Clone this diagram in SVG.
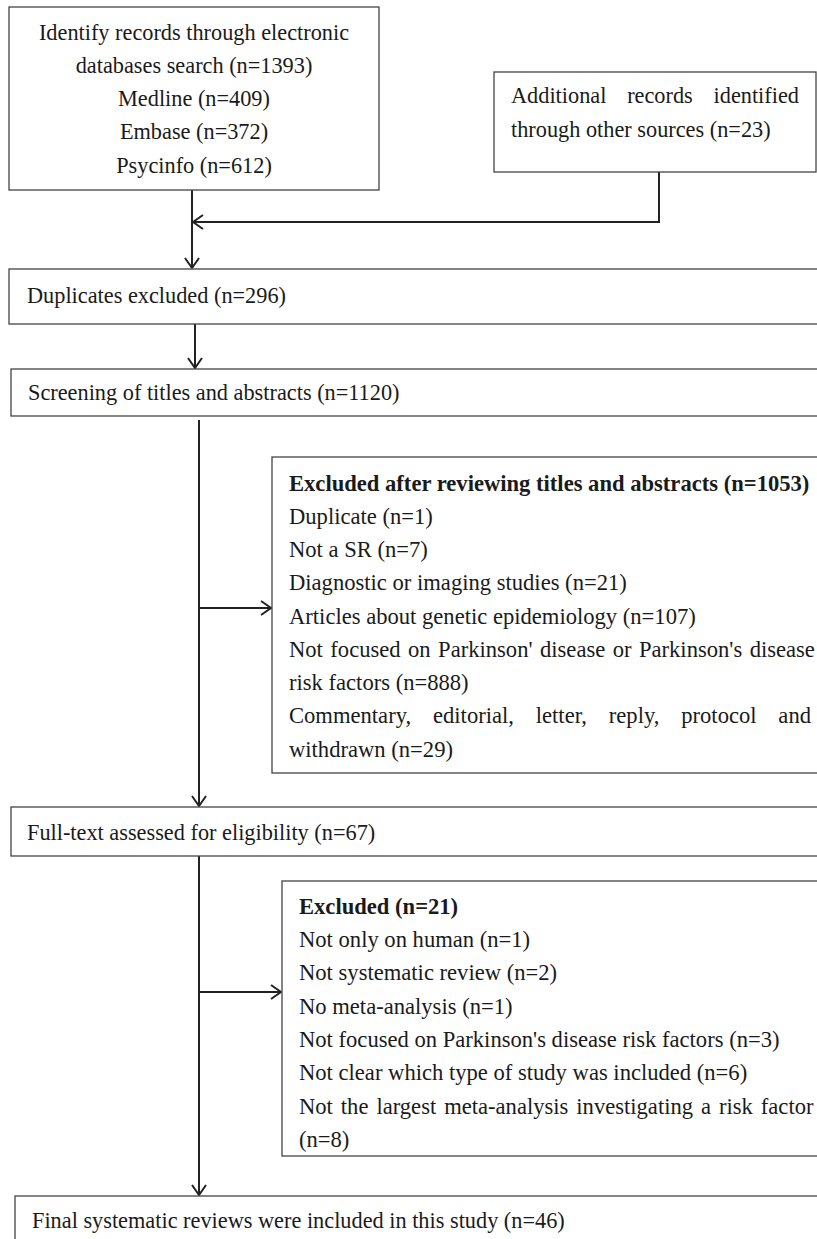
<svg xmlns="http://www.w3.org/2000/svg" width="817" height="1239" viewBox="0 0 817 1239">
<style>
.box{fill:#fff;stroke:#444;stroke-width:1.3}
.t{font-family:"Liberation Serif","Times New Roman",serif;font-size:22.3px;fill:#1a1a1a}
.s{font-family:"Liberation Serif","Times New Roman",serif;font-size:22.6px;fill:#1a1a1a}
.b{font-weight:bold}
.c{text-anchor:middle}
.ln{fill:none;stroke:#222;stroke-width:2}
</style>
<defs>
<marker id="ah" viewBox="0 0 12 16" refX="11" refY="8" markerWidth="12" markerHeight="16" markerUnits="userSpaceOnUse" orient="auto">
<polyline points="1,1 11,8 1,15" fill="none" stroke="#222" stroke-width="2"/>
</marker>
</defs>
<g id="connectors">
<line class="ln" x1="192" y1="190" x2="192" y2="268" marker-end="url(#ah)"/>
<polyline class="ln" points="659,172 659,222 193,222" marker-end="url(#ah)"/>
<line class="ln" x1="195" y1="324" x2="195" y2="368" marker-end="url(#ah)"/>
<line class="ln" x1="199" y1="420" x2="199" y2="806" marker-end="url(#ah)"/>
<line class="ln" x1="199" y1="608" x2="271" y2="608" marker-end="url(#ah)"/>
<line class="ln" x1="199" y1="856" x2="199" y2="1195" marker-end="url(#ah)"/>
<line class="ln" x1="199" y1="992" x2="281" y2="992" marker-end="url(#ah)"/>
</g>
<g id="identify">
<rect class="box" x="9" y="7" width="370" height="183"/>
<text class="t c" x="194" y="39.5">Identify records through electronic</text>
<text class="t c" x="194" y="72.8">databases search (n=1393)</text>
<text class="t c" x="194" y="106">Medline (n=409)</text>
<text class="t c" x="194" y="139.3">Embase (n=372)</text>
<text class="t c" x="194" y="172.6">Psycinfo (n=612)</text>
</g>
<g id="additional">
<rect class="box" x="494" y="72" width="322" height="100"/>
<text class="t" x="511" y="103" word-spacing="15.2">Additional records identified</text>
<text class="t" x="511" y="137">through other sources (n=23)</text>
</g>
<g id="duplicates">
<rect class="box" x="9" y="269" width="820" height="55"/>
<text class="t" x="27" y="303">Duplicates excluded (n=296)</text>
</g>
<g id="screening">
<rect class="box" x="11" y="369" width="820" height="47"/>
<text class="t" x="28" y="400">Screening of titles and abstracts (n=1120)</text>
</g>
<g id="excluded1">
<rect class="box" x="272" y="457" width="560" height="316"/>
<text class="s b" x="289" y="490.7">Excluded after reviewing titles and abstracts (n=1053)</text>
<text class="s" x="289" y="524">Duplicate (n=1)</text>
<text class="s" x="289" y="557">Not a SR (n=7)</text>
<text class="s" x="289" y="590">Diagnostic or imaging studies (n=21)</text>
<text class="s" x="289" y="623.5">Articles about genetic epidemiology (n=107)</text>
<text class="s" x="289" y="657" word-spacing="1.8">Not focused on Parkinson' disease or Parkinson's disease</text>
<text class="s" x="289" y="690">risk factors (n=888)</text>
<text class="s" x="289" y="723" word-spacing="16.2">Commentary, editorial, letter, reply, protocol and</text>
<text class="s" x="289" y="756.5">withdrawn (n=29)</text>
</g>
<g id="fulltext">
<rect class="box" x="11" y="807" width="820" height="49"/>
<text class="t" x="27" y="840">Full-text assessed for eligibility (n=67)</text>
</g>
<g id="excluded2">
<rect class="box" x="282" y="881" width="550" height="275"/>
<text class="s b" x="299" y="914">Excluded (n=21)</text>
<text class="s" x="299" y="947">Not only on human (n=1)</text>
<text class="s" x="299" y="980">Not systematic review (n=2)</text>
<text class="s" x="299" y="1014">No meta-analysis (n=1)</text>
<text class="s" x="299" y="1047">Not focused on Parkinson's disease risk factors (n=3)</text>
<text class="s" x="299" y="1080">Not clear which type of study was included (n=6)</text>
<text class="s" x="299" y="1114" word-spacing="2.3">Not the largest meta-analysis investigating a risk factor</text>
<text class="s" x="299" y="1147">(n=8)</text>
</g>
<g id="final">
<rect class="box" x="15" y="1196" width="820" height="60"/>
<text class="t" x="32" y="1228">Final systematic reviews were included in this study (n=46)</text>
</g>
</svg>
